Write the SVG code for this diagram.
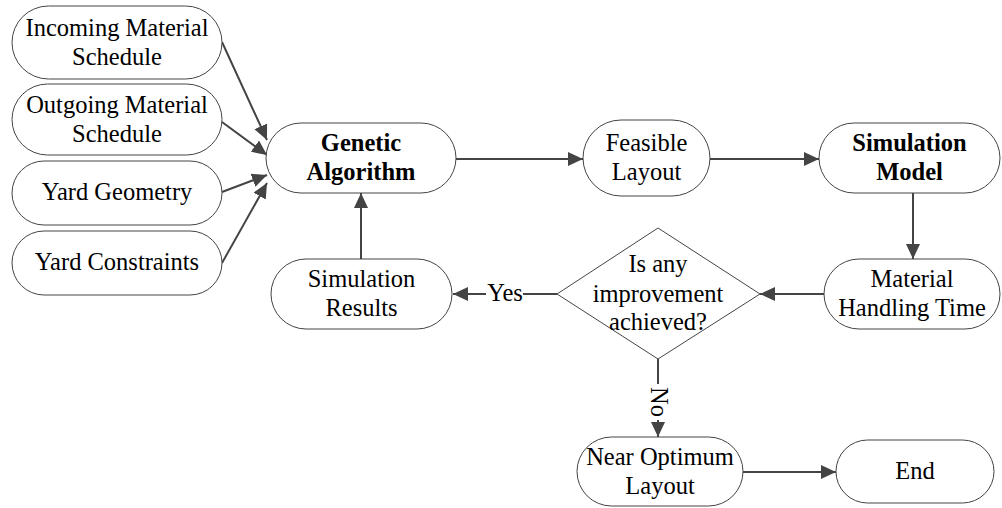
<svg xmlns="http://www.w3.org/2000/svg" width="1002" height="508" viewBox="0 0 1002 508">
<style>
.n{fill:#fff;stroke:#444;stroke-width:1}
.t{font-family:"Liberation Serif","Times New Roman",serif;font-size:24.5px;fill:#000;text-anchor:middle}
.b{font-weight:bold}
.c{fill:none;stroke:#444;stroke-width:2}
.l{font-family:"Liberation Serif","Times New Roman",serif;font-size:24.5px;fill:#000;text-anchor:middle}
</style>
<defs>
<marker id="ah" markerUnits="userSpaceOnUse" markerWidth="16" markerHeight="14" refX="15" refY="7" orient="auto">
<path d="M0,0 L15,7 L0,14 z" fill="#444"/>
</marker>
</defs>
<rect width="1002" height="508" fill="#fff"/>
<g id="connectors">
<line class="c" x1="222" y1="42" x2="267" y2="140" marker-end="url(#ah)"/>
<line class="c" x1="222" y1="122" x2="267" y2="155" marker-end="url(#ah)"/>
<line class="c" x1="222" y1="192" x2="267" y2="175" marker-end="url(#ah)"/>
<line class="c" x1="222" y1="263" x2="267" y2="183" marker-end="url(#ah)"/>
<line class="c" x1="456" y1="159" x2="583" y2="159" marker-end="url(#ah)"/>
<line class="c" x1="710" y1="159" x2="819" y2="159" marker-end="url(#ah)"/>
<line class="c" x1="913" y1="193" x2="913" y2="259" marker-end="url(#ah)"/>
<line class="c" x1="824" y1="294" x2="760" y2="294" marker-end="url(#ah)"/>
<line class="c" x1="557" y1="294" x2="453" y2="294" marker-end="url(#ah)"/>
<line class="c" x1="361" y1="259" x2="361" y2="193" marker-end="url(#ah)"/>
<line class="c" x1="658" y1="359" x2="658" y2="437" marker-end="url(#ah)"/>
<line class="c" x1="743" y1="472" x2="836" y2="472" marker-end="url(#ah)"/>
<rect x="486" y="283" width="37" height="22" fill="#fff"/>
<text class="l" x="505" y="301">Yes</text>
<rect x="648" y="384" width="20" height="36" fill="#fff"/>
<text class="l" transform="translate(658,402) rotate(90)" x="0" y="7">No</text>
</g>
<g id="incoming"><rect class="n" x="12" y="6" width="210" height="73" rx="36.5"/><text class="t" x="117" y="35.5">Incoming Material</text><text class="t" x="117" y="64.5">Schedule</text></g>
<g id="outgoing"><rect class="n" x="12" y="84" width="210" height="71" rx="35.5"/><text class="t" x="117" y="112.5">Outgoing Material</text><text class="t" x="117" y="141.5">Schedule</text></g>
<g id="geometry"><rect class="n" x="12" y="161" width="210" height="64" rx="32"/><text class="t" x="117" y="200">Yard Geometry</text></g>
<g id="constraints"><rect class="n" x="12" y="231" width="210" height="64" rx="32"/><text class="t" x="117" y="270">Yard Constraints</text></g>
<g id="ga"><rect class="n" x="266" y="123" width="190" height="70" rx="35"/><text class="t b" x="361" y="151">Genetic</text><text class="t b" x="361" y="180">Algorithm</text></g>
<g id="feasible"><rect class="n" x="583" y="120" width="127" height="76" rx="38"/><text class="t" x="646.5" y="151">Feasible</text><text class="t" x="646.5" y="180">Layout</text></g>
<g id="simmodel"><rect class="n" x="819" y="123" width="181" height="70" rx="35"/><text class="t b" x="909.5" y="151">Simulation</text><text class="t b" x="909.5" y="180">Model</text></g>
<g id="mht"><rect class="n" x="824" y="259" width="176" height="70" rx="35"/><text class="t" x="912" y="287">Material</text><text class="t" x="912" y="316">Handling Time</text></g>
<g id="decision"><polygon class="n" points="557,294 658,228 760,294 658,359"/><text class="t" x="658" y="272">Is any</text><text class="t" x="658" y="302">improvement</text><text class="t" x="658" y="330">achieved?</text></g>
<g id="simresults"><rect class="n" x="271" y="259" width="181" height="70" rx="35"/><text class="t" x="361.5" y="287">Simulation</text><text class="t" x="361.5" y="316">Results</text></g>
<g id="nearopt"><rect class="n" x="577" y="437" width="166" height="69" rx="34.5"/><text class="t" x="660" y="464.5">Near Optimum</text><text class="t" x="660" y="493.5">Layout</text></g>
<g id="end"><rect class="n" x="836" y="440" width="158" height="63" rx="31.5"/><text class="t" x="915" y="479">End</text></g>
</svg>
